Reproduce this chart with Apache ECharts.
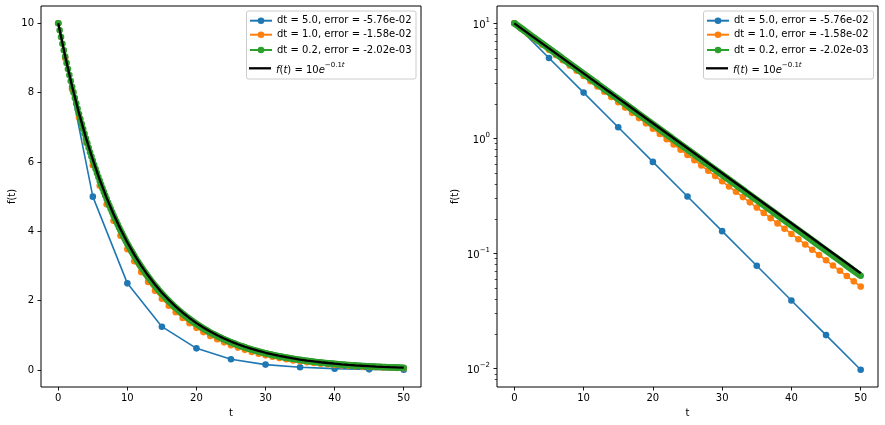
<!DOCTYPE html>
<html><head><meta charset="utf-8">
<script src="https://cdn.jsdelivr.net/npm/echarts@6/dist/echarts.min.js"></script>
<style>html,body{margin:0;padding:0;background:#fff}#c{width:885px;height:425px}</style>
</head><body><div id="c"></div>
<script>
// dt = 5.0
const tCoarse = [0,5,10,15,20,25,30,35,40,45,50];
const fCoarse = [10,5,2.5,1.25,0.625,0.3125,0.1563,0.07813,0.03906,0.01953,0.009766];
// dt = 1.0
const tMid = [0,1,2,3,4,5,6,7,8,9,10,11,12,13,14,15,16,17,18,19,20,21,22,23,24,25,
  26,27,28,29,30,31,32,33,34,35,36,37,38,39,40,41,42,43,44,45,46,47,48,49,50];
const fMid = [10,9,8.1,7.29,6.561,5.905,5.314,4.783,4.305,3.874,3.487,3.138,2.824,2.542,2.288,2.059,
  1.853,1.668,1.501,1.351,1.216,1.094,0.9848,0.8863,0.7977,0.7179,0.6461,0.5815,0.5233,0.4710,0.4239,
  0.3815,0.3434,0.3090,0.2781,0.2503,0.2253,0.2028,0.1825,0.1642,0.1478,0.1330,0.1197,0.1078,0.09698,
  0.08728,0.07855,0.07070,0.06363,0.05726,0.05154];
// dt = 0.2
const tFine = [
  0,0.2,0.4,0.6,0.8,1,1.2,1.4,1.6,1.8,2,2.2,2.4,2.6,2.8,3,3.2,3.4,3.6,3.8,4,4.2,4.4,4.6,4.8,
  5,5.2,5.4,5.6,5.8,6,6.2,6.4,6.6,6.8,7,7.2,7.4,7.6,7.8,8,8.2,8.4,8.6,8.8,9,9.2,9.4,9.6,9.8,
  10,10.2,10.4,10.6,10.8,11,11.2,11.4,11.6,11.8,12,12.2,12.4,12.6,12.8,13,13.2,13.4,13.6,13.8,14,14.2,14.4,14.6,14.8,
  15,15.2,15.4,15.6,15.8,16,16.2,16.4,16.6,16.8,17,17.2,17.4,17.6,17.8,18,18.2,18.4,18.6,18.8,19,19.2,19.4,19.6,19.8,
  20,20.2,20.4,20.6,20.8,21,21.2,21.4,21.6,21.8,22,22.2,22.4,22.6,22.8,23,23.2,23.4,23.6,23.8,24,24.2,24.4,24.6,24.8,
  25,25.2,25.4,25.6,25.8,26,26.2,26.4,26.6,26.8,27,27.2,27.4,27.6,27.8,28,28.2,28.4,28.6,28.8,29,29.2,29.4,29.6,29.8,
  30,30.2,30.4,30.6,30.8,31,31.2,31.4,31.6,31.8,32,32.2,32.4,32.6,32.8,33,33.2,33.4,33.6,33.8,34,34.2,34.4,34.6,34.8,
  35,35.2,35.4,35.6,35.8,36,36.2,36.4,36.6,36.8,37,37.2,37.4,37.6,37.8,38,38.2,38.4,38.6,38.8,39,39.2,39.4,39.6,39.8,
  40,40.2,40.4,40.6,40.8,41,41.2,41.4,41.6,41.8,42,42.2,42.4,42.6,42.8,43,43.2,43.4,43.6,43.8,44,44.2,44.4,44.6,44.8,
  45,45.2,45.4,45.6,45.8,46,46.2,46.4,46.6,46.8,47,47.2,47.4,47.6,47.8,48,48.2,48.4,48.6,48.8,49,49.2,49.4,49.6,49.8,
  50];
const fFine = [
  10,9.8,9.604,9.412,9.224,9.039,8.858,8.681,8.508,8.337,8.171,8.007,7.847,7.690,7.536,7.386,7.238,7.093,6.951,6.812,6.676,6.543,6.412,6.283,6.158,
  6.035,5.914,5.796,5.680,5.566,5.455,5.346,5.239,5.134,5.031,4.931,4.832,4.735,4.641,4.548,4.457,4.368,4.281,4.195,4.111,4.029,3.948,3.869,3.792,3.716,
  3.642,3.569,3.497,3.428,3.359,3.292,3.226,3.161,3.098,3.036,2.976,2.916,2.858,2.801,2.745,2.690,2.636,2.583,2.531,2.481,2.431,2.383,2.335,2.288,2.242,
  2.198,2.154,2.111,2.068,2.027,1.986,1.947,1.908,1.870,1.832,1.796,1.760,1.725,1.690,1.656,1.623,1.591,1.559,1.528,1.497,1.467,1.438,1.409,1.381,1.353,
  1.326,1.300,1.274,1.248,1.223,1.199,1.175,1.151,1.128,1.106,1.084,1.062,1.041,1.020,0.9995,0.9795,0.9599,0.9407,0.9219,0.9034,0.8854,0.8677,0.8503,0.8333,0.8166,
  0.8003,0.7843,0.7686,0.7532,0.7382,0.7234,0.7090,0.6948,0.6809,0.6673,0.6539,0.6408,0.6280,0.6155,0.6031,0.5911,0.5793,0.5677,0.5563,0.5452,0.5343,0.5236,0.5131,0.5029,0.4928,
  0.4830,0.4733,0.4638,0.4546,0.4455,0.4366,0.4278,0.4193,0.4109,0.4027,0.3946,0.3867,0.3790,0.3714,0.3640,0.3567,0.3496,0.3426,0.3357,0.3290,0.3224,0.3160,0.3097,0.3035,0.2974,
  0.2914,0.2856,0.2799,0.2743,0.2688,0.2634,0.2582,0.2530,0.2480,0.2430,0.2381,0.2334,0.2287,0.2241,0.2196,0.2153,0.2110,0.2067,0.2026,0.1985,0.1946,0.1907,0.1869,0.1831,0.1795,
  0.1759,0.1724,0.1689,0.1655,0.1622,0.1590,0.1558,0.1527,0.1496,0.1466,0.1437,0.1408,0.1380,0.1353,0.1326,0.1299,0.1273,0.1248,0.1223,0.1198,0.1174,0.1151,0.1128,0.1105,0.1083,
  0.1061,0.1040,0.1019,0.09990,0.09790,0.09594,0.09402,0.09214,0.09030,0.08849,0.08672,0.08499,0.08329,0.08162,0.07999,0.07839,0.07682,0.07529,0.07378,0.07230,0.07086,0.06944,0.06805,0.06669,0.06536,
  0.06405];
// exact solution f(t) = 10 e^{-0.1 t}, sampled at t = 0..50
const tExact = [0,1,2,3,4,5,6,7,8,9,10,11,12,13,14,15,16,17,18,19,20,21,22,23,24,25,
  26,27,28,29,30,31,32,33,34,35,36,37,38,39,40,41,42,43,44,45,46,47,48,49,50];
const fExact = [10,9.048,8.187,7.408,6.703,6.065,5.488,4.966,4.493,4.066,3.679,3.329,3.012,2.725,2.466,2.231,
  2.019,1.827,1.653,1.496,1.353,1.225,1.108,1.003,0.9072,0.8209,0.7427,0.6721,0.6081,0.5502,0.4979,
  0.4505,0.4076,0.3688,0.3337,0.3020,0.2732,0.2472,0.2237,0.2024,0.1832,0.1657,0.1500,0.1357,0.1228,
  0.1111,0.1005,0.09095,0.08230,0.07447,0.06738];

const seriesNames = ['dt = 5.0, error = -5.76e-02','dt = 1.0, error = -1.58e-02','dt = 0.2, error = -2.02e-03','f(t) = 10e^{-0.1t}'];
const seriesColors = ['#1f77b4','#ff7f0e','#2ca02c','#000000'];
const xTicks = [0,10,20,30,40,50];
const yTicksLin = [0,2,4,6,8,10];
const yTicksLog = [0.01,0.1,1,10];
const yMinorTicksLog = [0.008,0.009,0.02,0.03,0.04,0.05,0.06,0.07,0.08,0.09,0.2,0.3,0.4,0.5,0.6,0.7,0.8,0.9,2,3,4,5,6,7,8,9];

const FONT = 'DejaVu Sans';
function zip(a, b) { return a.map((v, i) => [v, b[i]]); }
const seriesData = [zip(tCoarse, fCoarse), zip(tMid, fMid), zip(tFine, fFine), zip(tExact, fExact)];

const chart = echarts.init(document.getElementById('c'), null, {renderer: 'canvas'});

const axisCommon = {
  axisLine: {show: false, onZero: false},
  splitLine: {show: false},
  axisTick: {show: true, length: 3.5, lineStyle: {color: '#000', width: 0.9}},
  axisLabel: {color: '#000', fontSize: 10, fontFamily: FONT},
  nameTextStyle: {color: '#000', fontSize: 10, fontFamily: FONT}
};

function xAxisFor(g) {
  return Object.assign({}, axisCommon, {
    type: 'value', gridIndex: g, min: -2.5, max: 52.5, position: 'bottom',
    name: 't', nameLocation: 'middle', nameGap: 21,
    axisTick: Object.assign({}, axisCommon.axisTick, {customValues: xTicks}),
    axisLabel: Object.assign({}, axisCommon.axisLabel, {customValues: xTicks, margin: 6})
  });
}

const supRich = {
  b: {fontSize: 10, fontFamily: FONT, color: '#000', lineHeight: 14, verticalAlign: 'bottom'},
  s: {fontSize: 7, fontFamily: FONT, color: '#000', lineHeight: 9, verticalAlign: 'top'}
};

const series = [];
for (let g = 0; g < 2; g++) {
  for (let k = 0; k < 4; k++) {
    series.push({
      type: 'line', name: seriesNames[k], xAxisIndex: g, yAxisIndex: g,
      data: seriesData[k],
      z: 2 + k,
      symbol: k < 3 ? 'circle' : 'none',
      symbolSize: 6.6, showAllSymbol: true,
      color: seriesColors[k],
      itemStyle: {color: seriesColors[k]},
      lineStyle: {color: seriesColors[k], width: k < 3 ? 1.6 : 2.3},
      emphasis: {disabled: true},
      animation: false
    });
  }
}

const legendRich = {
  i: {fontSize: 10, fontFamily: FONT, fontStyle: 'italic', color: '#000', lineHeight: 14, verticalAlign: 'bottom'},
  n: {fontSize: 10, fontFamily: FONT, color: '#000', lineHeight: 14, verticalAlign: 'bottom'},
  s: {fontSize: 7, fontFamily: FONT, color: '#000', lineHeight: 9, verticalAlign: 'top'},
  si: {fontSize: 7, fontFamily: FONT, fontStyle: 'italic', color: '#000', lineHeight: 9, verticalAlign: 'top'}
};
const legendLeft = [249, 706];
const legendTop = [15.7, 29.7, 45, 61.3];
const legends = [];
for (let g = 0; g < 2; g++) {
  for (let k = 0; k < 4; k++) {
    legends.push({
      data: [k < 3 ? {name: seriesNames[k]} : {name: seriesNames[k], icon: 'rect'}],
      left: legendLeft[g], top: legendTop[k], padding: 0,
      itemWidth: 22, itemHeight: k < 3 ? 8.3 : 2.3,
      selectedMode: false, z: 6,
      textStyle: {fontSize: 10, fontFamily: FONT, color: '#000', rich: legendRich},
      formatter: function (name) {
        if (name === seriesNames[3]) return '{i|f}{n|(}{i|t}{n|) = 10}{i|e}{s|\u22120.1}{si|t}';
        return name;
      }
    });
  }
}

const option = {
  backgroundColor: '#fff',
  animation: false,
  grid: [
    {left: 41, top: 6, width: 380, height: 381, show: true, borderColor: '#000', borderWidth: 1, containLabel: false},
    {left: 497, top: 6, width: 381, height: 381, show: true, borderColor: '#000', borderWidth: 1, containLabel: false}
  ],
  xAxis: [xAxisFor(0), xAxisFor(1)],
  yAxis: [
    Object.assign({}, axisCommon, {
      type: 'value', gridIndex: 0, min: -0.4897, max: 10.4995, position: 'left',
      name: 'f(t)', nameLocation: 'middle', nameGap: 23,
      axisTick: Object.assign({}, axisCommon.axisTick, {customValues: yTicksLin}),
      axisLabel: Object.assign({}, axisCommon.axisLabel, {customValues: yTicksLin, margin: 7})
    }),
    Object.assign({}, axisCommon, {
      type: 'log', logBase: 10, gridIndex: 1, min: 0.00691, max: 14.15, position: 'left',
      name: 'f(t)', nameLocation: 'middle', nameGap: 37,
      axisTick: Object.assign({}, axisCommon.axisTick, {customValues: yTicksLog}),
      axisLabel: Object.assign({}, axisCommon.axisLabel, {
        customValues: yTicksLog, margin: 7, rich: supRich,
        formatter: function (v) {
          const e = Math.round(Math.log10(v));
          return '{b|10}{s|' + (e < 0 ? '\u2212' + (-e) : e) + '}';
        }
      })
    }),
    Object.assign({}, axisCommon, {
      type: 'log', logBase: 10, gridIndex: 1, min: 0.00691, max: 14.15, position: 'left', offset: 0,
      axisLabel: {show: false},
      axisTick: {show: true, length: 2.3, customValues: yMinorTicksLog, lineStyle: {color: '#000', width: 0.7}}
    })
  ],
  legend: legends,
  graphic: [
    {type: 'rect', z: 5, shape: {x: 246.5, y: 11, width: 169.5, height: 68, r: 2},
     style: {fill: 'rgba(255,255,255,0.8)', stroke: '#cccccc', lineWidth: 1}},
    {type: 'rect', z: 5, shape: {x: 703.5, y: 11, width: 170, height: 68, r: 2},
     style: {fill: 'rgba(255,255,255,0.8)', stroke: '#cccccc', lineWidth: 1}}
  ],
  series: series
};
chart.setOption(option);
</script>
</body></html>
